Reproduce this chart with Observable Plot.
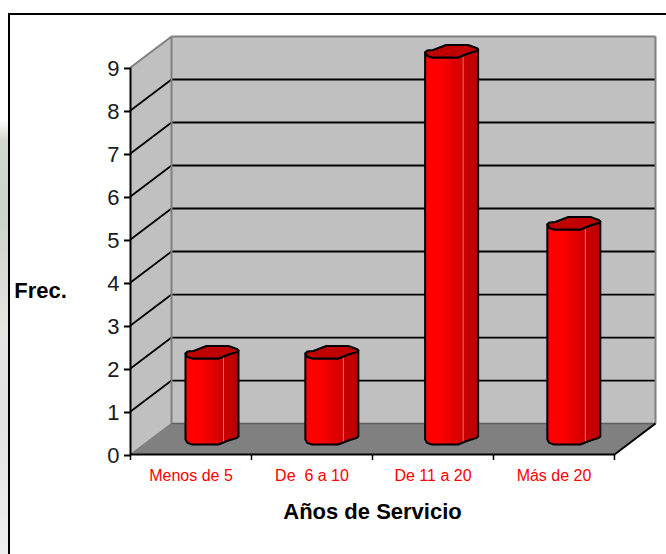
<!DOCTYPE html>
<html>
<head>
<meta charset="utf-8">
<script src="https://cdn.jsdelivr.net/npm/d3@7"></script>
<script src="https://cdn.jsdelivr.net/npm/@observablehq/plot@0.6"></script>
<style>
html,body{margin:0;padding:0;background:#fff;overflow:hidden;width:666px;height:554px;}
#strip{position:absolute;left:0;top:0;width:9px;height:554px;background:linear-gradient(#fff 0,#fff 120px,#d4d9d0 140px,#ccd2c8 210px,#e4e6e2 330px,#dfe2de 420px,#eef0ee 554px);}
#frame{position:absolute;left:8px;top:13px;right:-4px;bottom:-4px;border:2px solid #000;background:#fff;}
#chart{position:absolute;left:0;top:0;}
</style>
</head>
<body>
<div id="strip"></div>
<div id="frame"></div>
<div id="chart"></div>
<script>
// Data
const categories = ["Menos de 5", "De\u00a0\u00a06 a 10", "De 11 a 20", "Más de 20"];
const frequencies = [2, 2, 9, 5];
const yTicks = [0, 1, 2, 3, 4, 5, 6, 7, 8, 9];
const xLabel = "Años de Servicio";
const yLabel = "Frec.";

// Oblique depth of the 3-D box, in data units
const depthX = 0.339, depthY = 0.72, nCat = categories.length;
const unitX = 121, unitY = 43;          // pixels per data unit, used to express the bar profile
const gridWall = d3.range(1, 9);

// Bar cross-section profile (pixel offsets from the bar's front-left foot)
const frontEdge = [[0,5],[2,1.6],[6.7,0],[33,0],[43,4],[51,6.4],[53,8]];
const backEdge  = [[53,8],[52,9.2],[43,12.5],[21,12.5],[8,7.5],[2,7],[0,5]];
const baseY = 10 / unitY, barW = 53;
const barOffsets = [0.4545, 1.445, 2.435, 3.445];
const lerp = (pts, u) => {
  for (let k = 1; k < pts.length; k++) if (u <= pts[k][0]) {
    const [a, b] = [pts[k-1], pts[k]];
    return a[1] + (b[1] - a[1]) * (u - a[0]) / (b[0] - a[0]);
  }
  return pts[pts.length-1][1];
};
const pX = (i, u) => barOffsets[i] + u / unitX;
const pY = (v, val) => baseY + v / unitY + val;

const colorAt = u => {
  if (u < 14) return "#ff0000";
  if (u < 38) return d3.interpolateRgb("#ff0000", "#cf0000")((u - 14) / 24);
  return d3.interpolateRgb("#cc0000", "#b80000")((u - 38) / 15);
};

const strips = [], bodies = [], caps = [], seams = [];
frequencies.forEach((val, i) => {
  for (let u = 0; u < barW; u++) {
    const m = lerp(frontEdge, u + 0.5);
    strips.push({x1: pX(i, u), x2: pX(i, u + 1), y1: pY(m, 0), y2: pY(m, val), fill: colorAt(u)});
  }
  const body = [...frontEdge.map(([u, v]) => [u, v, 0]), ...frontEdge.slice().reverse().map(([u, v]) => [u, v, val])];
  body.push(frontEdge[0].concat(0));
  body.forEach(([u, v, h]) => bodies.push({id: i, x: pX(i, u), y: pY(v, h)}));
  [...frontEdge, ...backEdge].forEach(([u, v]) => caps.push({id: i, x: pX(i, u), y: pY(v, val)}));
  seams.push({x: pX(i, 38), y1: pY(lerp(frontEdge, 38), 0), y2: pY(lerp(frontEdge, 38), val)});
});

const topV = 9;
const sideWall = [[0,0],[depthX,depthY],[depthX,topV+depthY],[0,topV]].map(([x,y]) => ({x,y}));
const backWall = [[depthX,depthY],[depthX+nCat,depthY],[depthX+nCat,topV+depthY],[depthX,topV+depthY]].map(([x,y]) => ({x,y}));
const floorPoly = [[0,0],[nCat,0],[nCat+depthX,depthY],[depthX,depthY]].map(([x,y]) => ({x,y}));

const font = "Liberation Sans, Arial, sans-serif";
const plot = Plot.plot({
  width: 666, height: 554,
  marginLeft: 130, marginRight: 10, marginTop: 36, marginBottom: 100,
  x: {domain: [0, nCat + depthX], range: [130, 655]},
  y: {domain: [0, topV + depthY], range: [454, 36]},
  style: {background: "transparent", fontFamily: font},
  marks: [
    Plot.line(sideWall, {x: "x", y: "y", fill: "#c0c0c0", stroke: "none"}),
    Plot.line(backWall, {x: "x", y: "y", fill: "#c0c0c0", stroke: "none"}),
    Plot.line(floorPoly, {x: "x", y: "y", fill: "#808080", stroke: "none"}),
    // gridlines
    Plot.link(gridWall, {x1: 0, y1: d => d, x2: depthX, y2: d => d + depthY, stroke: "#000", strokeWidth: 1.8}),
    Plot.link(gridWall, {x1: depthX, y1: d => d + depthY, x2: depthX + nCat, y2: d => d + depthY, stroke: "#000", strokeWidth: 1.8}),
    // wall edges
    Plot.link([0], {x1: depthX, y1: depthY, x2: depthX, y2: topV + depthY, stroke: "#808080", strokeWidth: 2}),
    Plot.link([0], {x1: 0, y1: topV, x2: depthX, y2: topV + depthY, stroke: "#808080", strokeWidth: 2}),
    Plot.link([0], {x1: depthX, y1: topV + depthY, x2: depthX + nCat, y2: topV + depthY, stroke: "#808080", strokeWidth: 2}),
    Plot.link([0], {x1: depthX + nCat, y1: depthY, x2: depthX + nCat, y2: topV + depthY, stroke: "#808080", strokeWidth: 2}),
    Plot.link([0], {x1: 0, y1: 0, x2: depthX, y2: depthY, stroke: "#808080", strokeWidth: 1.5}),
    Plot.link([0], {x1: depthX, y1: depthY, x2: depthX + nCat, y2: depthY, stroke: "#606060", strokeWidth: 1.5}),
    // cylinders
    Plot.rect(strips, {x1: "x1", x2: "x2", y1: "y1", y2: "y2", fill: "fill", shapeRendering: "crispEdges"}),
    Plot.ruleX(seams, {x: "x", y1: "y1", y2: "y2", stroke: "#e87070", strokeWidth: 1}),
    Plot.line(bodies, {x: "x", y: "y", z: "id", stroke: "#000", strokeWidth: 2, strokeLinejoin: "round"}),
    Plot.line(caps, {x: "x", y: "y", z: "id", fill: "#c00000", stroke: "#000", strokeWidth: 2, strokeLinejoin: "round"}),
    // floor front/right edges and axes
    Plot.link([0], {x1: 0, y1: 0, x2: nCat, y2: 0, stroke: "#000", strokeWidth: 2}),
    Plot.link([0], {x1: nCat, y1: 0, x2: nCat + depthX, y2: depthY, stroke: "#000", strokeWidth: 2}),
    Plot.link([0], {x1: 0, y1: 0, x2: 0, y2: topV, stroke: "#000", strokeWidth: 2}),
    Plot.axisY({ticks: yTicks, tickSize: 6, tickPadding: 5, fontSize: 22, tickFormat: d => String(d), label: null, stroke: "#000", strokeWidth: 2, fill: "#1a1a1a", dy: 1}),
    Plot.axisX({ticks: d3.range(0, nCat + 1), tickSize: 6, tickFormat: () => "", label: null, stroke: "#000", strokeWidth: 1.5}),
    Plot.axisX({ticks: d3.range(nCat).map(i => i + 0.5), tickSize: 0, tickPadding: 14, fontSize: 16, tickFormat: d => categories[d - 0.5], label: null, fill: "#ff0000", dy: 1}),
    Plot.text([xLabel], {x: nCat / 2, y: 0, dy: 57, text: d => d, fontSize: 22, fontWeight: "bold", fill: "#000", letterSpacing: "0.7px"}),
    Plot.text([yLabel], {x: 0, y: 3.8, dx: -90, text: d => d, fontSize: 22, fontWeight: "bold", fill: "#000"})
  ]
});
document.getElementById("chart").append(plot);
</script>
</body>
</html>
